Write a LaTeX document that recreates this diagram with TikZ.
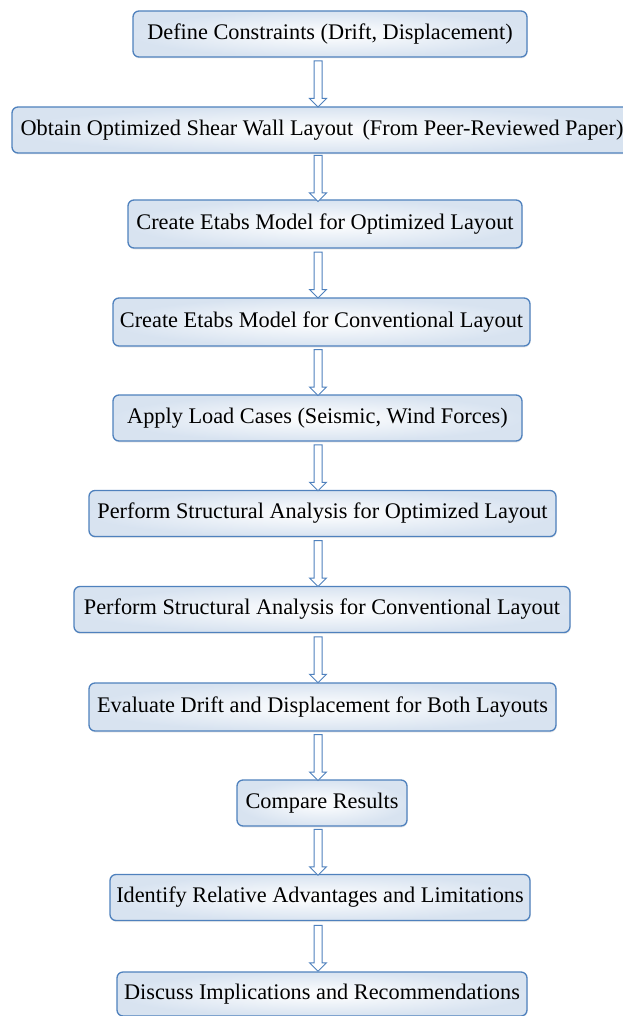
\documentclass[tikz,border=0pt]{standalone}
\usepackage{fontspec}
\setmainfont{Liberation Serif}
\usetikzlibrary{shapes.arrows,shadows}
\definecolor{stageblue}{RGB}{79,129,189}

\begin{document}
\begin{tikzpicture}[x=1pt,y=-1pt,
  stage/.style={rectangle,draw=stageblue,line width=1.3pt,rounded corners=6pt,inner color=white,outer color=stageblue!22,minimum height=46pt,inner sep=2pt,font=\fontsize{22.3}{25}\selectfont,drop shadow={opacity=0.15,shadow xshift=0.5pt,shadow yshift=-1.5pt}},
  flow/.style={single arrow,draw=stageblue,line width=1pt,fill=white,shape border rotate=270,inner xsep=3.5pt,inner ysep=0pt,single arrow head extend=4.5pt,minimum width=17pt,minimum height=46pt}]
\useasboundingbox (0,0) rectangle (622,1016);
\coordinate (axis) at (318,0);
\node[stage,minimum width=394pt] (constraints) at (330,34) {Define Constraints (Drift, Displacement)};
\node[stage,minimum width=620pt] (layout) at (322,130) {Obtain Optimized Shear Wall Layout\, (From Peer-Reviewed Paper)};
\node[stage,minimum width=394pt,minimum height=48pt] (optmodel) at (325,224) {Create Etabs Model for Optimized Layout};
\node[stage,minimum width=417pt,minimum height=48pt] (convmodel) at (321.5,322) {Create Etabs Model for Conventional Layout};
\node[stage,minimum width=409pt] (loads) at (317.5,418) {Apply Load Cases (Seismic, Wind Forces)};
\node[stage,minimum width=467pt] (optanalysis) at (322.5,513.5) {Perform Structural Analysis for Optimized Layout};
\node[stage,minimum width=496pt] (convanalysis) at (322,609.5) {Perform Structural Analysis for Conventional Layout};
\node[stage,minimum width=467pt,minimum height=48pt] (evaluate) at (322.5,707) {Evaluate Drift and Displacement for Both Layouts};
\node[stage,minimum width=170pt] (compare) at (322,803) {Compare Results};
\node[stage,minimum width=420pt] (identify) at (320,897.5) {Identify Relative Advantages and Limitations};
\node[stage,minimum width=410pt,minimum height=44pt] (discuss) at (322,994) {Discuss Implications and Recommendations};
\foreach \a/\b in {constraints/layout,layout/optmodel,optmodel/convmodel,convmodel/loads,loads/optanalysis,optanalysis/convanalysis,convanalysis/evaluate,evaluate/compare,compare/identify,identify/discuss}
  \path (\a.south -| axis) -- (\b.north -| axis) node[midway,flow] {};
\end{tikzpicture}
\end{document}
